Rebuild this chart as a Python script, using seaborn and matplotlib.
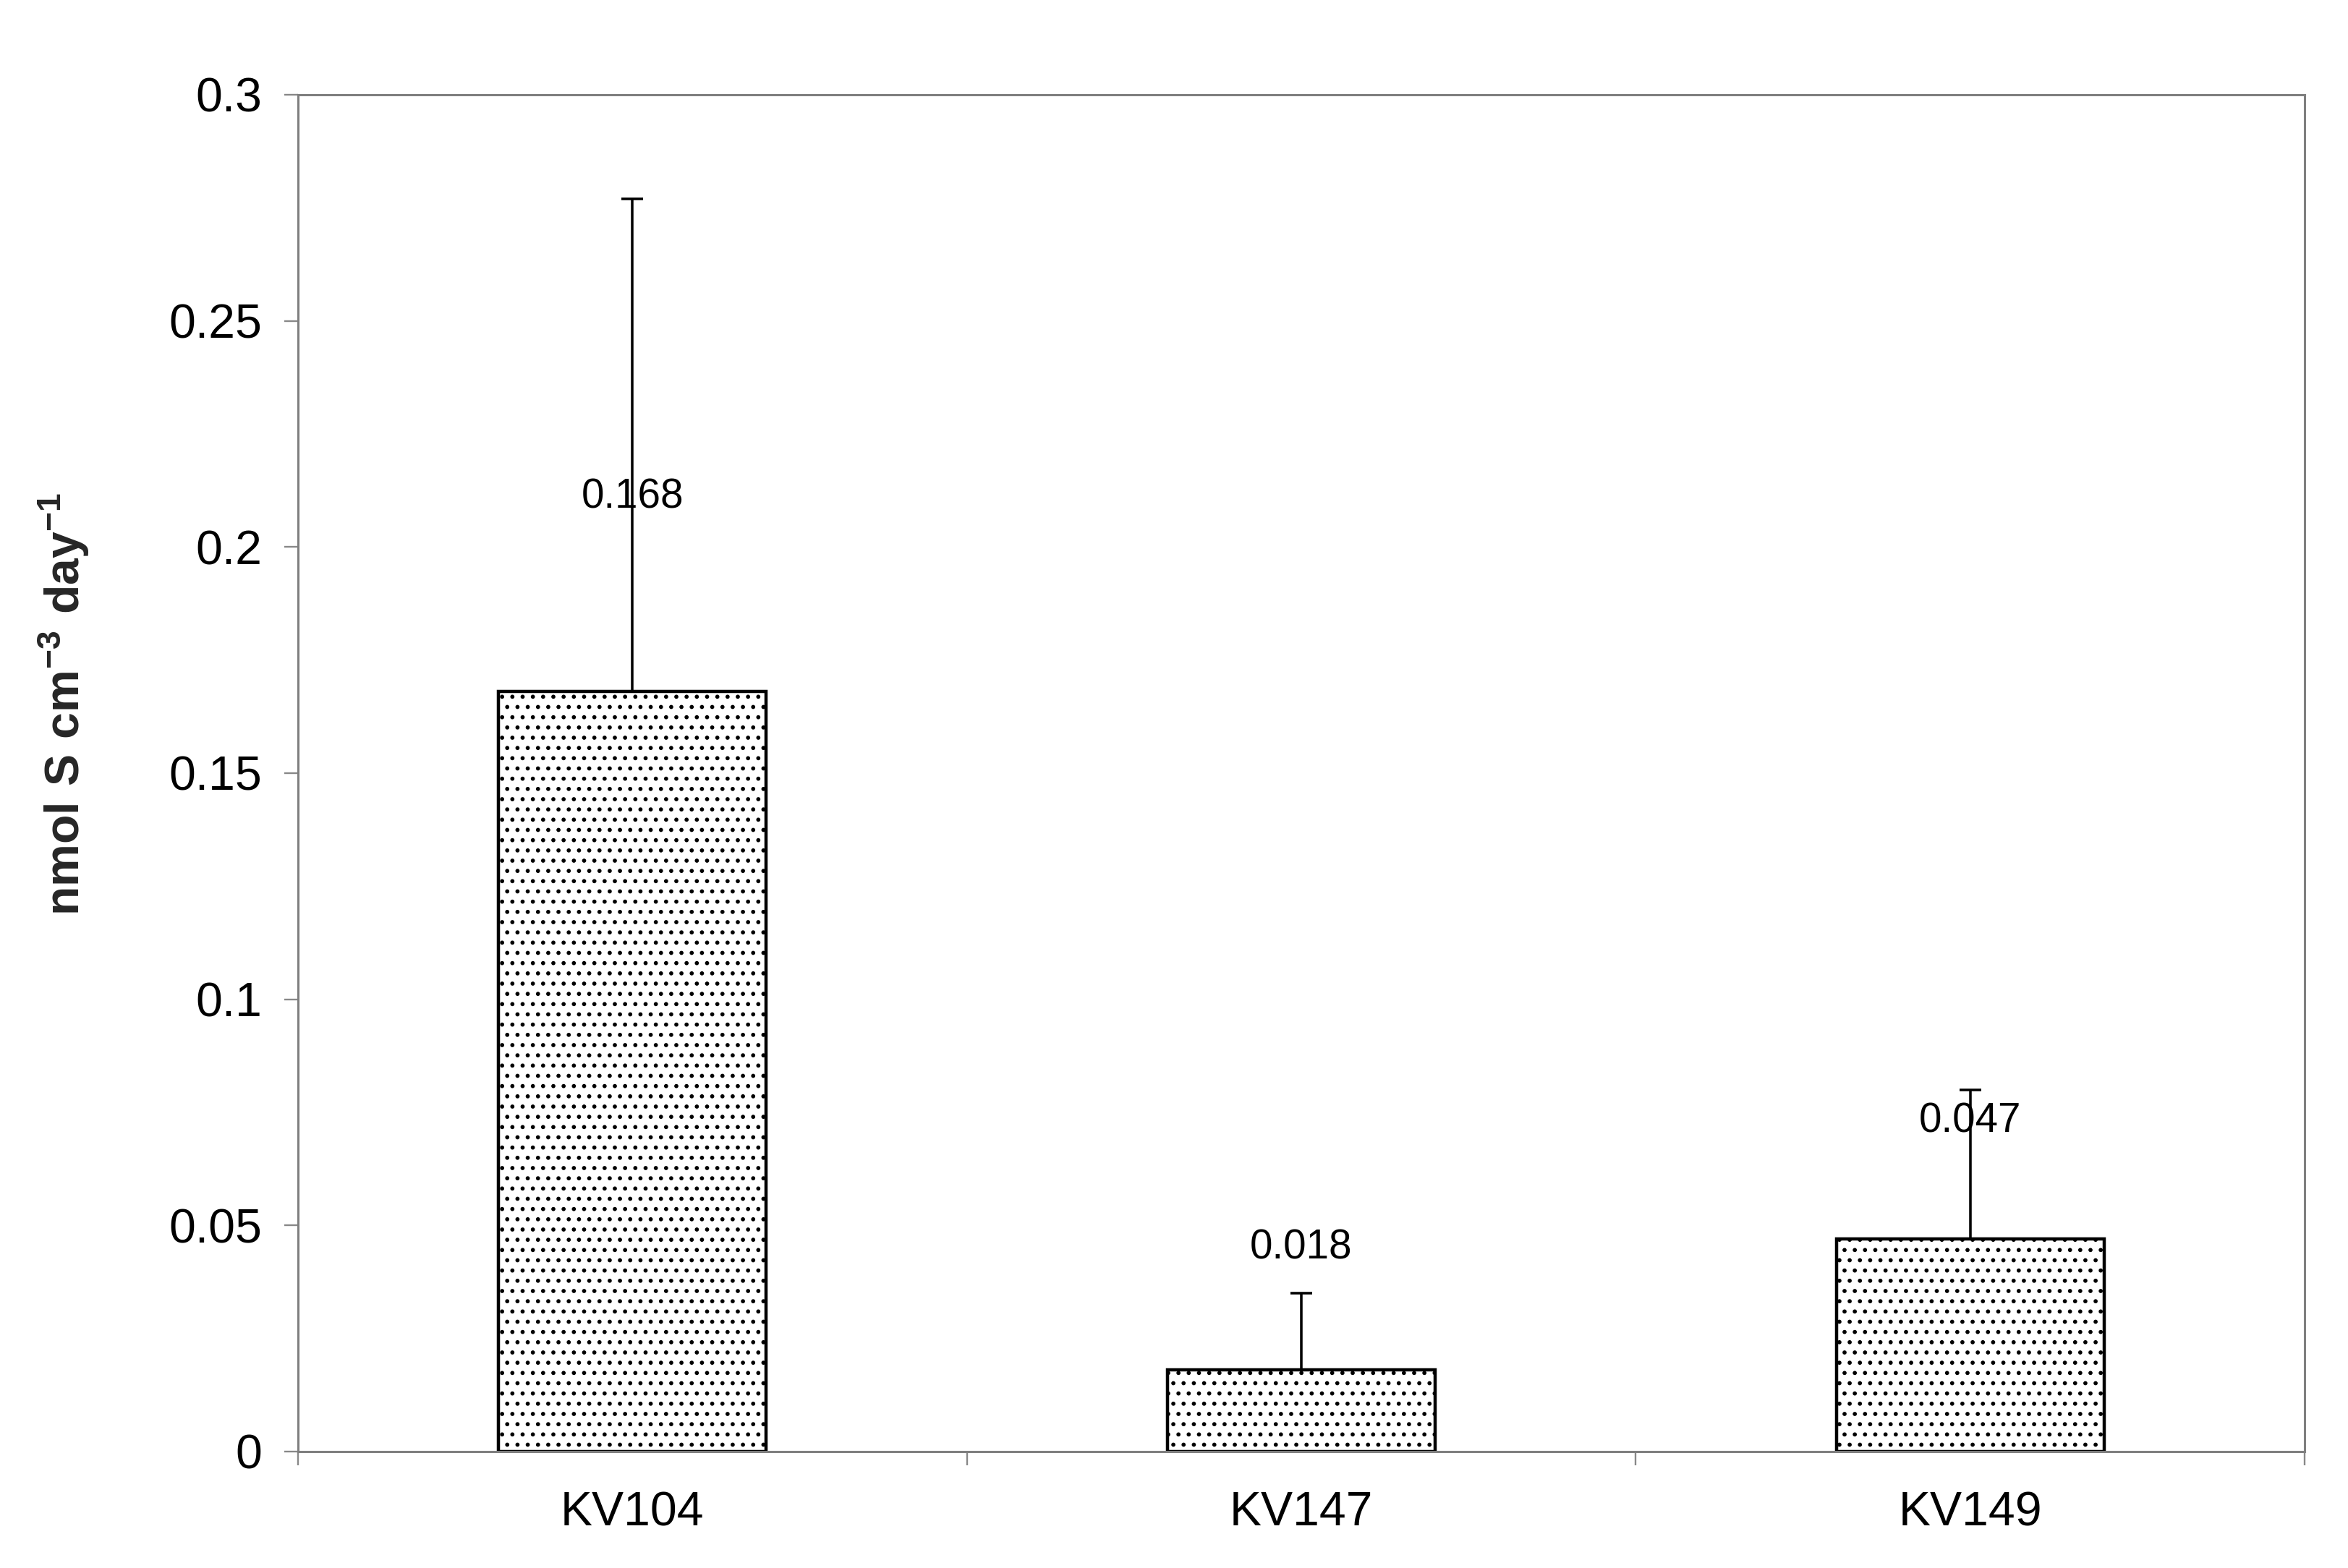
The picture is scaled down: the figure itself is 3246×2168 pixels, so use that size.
import matplotlib
matplotlib.use("Agg")
import matplotlib.pyplot as plt
import seaborn as sns
import pandas as pd
import numpy as np

# ---- data ----
sites = ["KV104", "KV147", "KV149"]
rates = [0.168, 0.018, 0.047]
err_upper = [0.109, 0.017, 0.033]
value_labels = ["0.168", "0.018", "0.047"]
label_y = [0.211, 0.045, 0.073]
yticks = [0, 0.05, 0.1, 0.15, 0.2, 0.25, 0.3]
ytick_labels = ["0", "0.05", "0.1", "0.15", "0.2", "0.25", "0.3"]

sns.set_theme(style="white")
plt.rcParams['font.family'] = ['Liberation Sans', 'DejaVu Sans']
plt.rcParams['mathtext.fontset'] = 'custom'
plt.rcParams['mathtext.rm'] = 'Liberation Sans'
plt.rcParams['mathtext.bf'] = 'Liberation Sans:bold'
plt.rcParams['hatch.linewidth'] = 1.2
plt.rcParams['hatch.color'] = 'black'

DPI = 170
fig = plt.figure(figsize=(3246 / DPI, 2168 / DPI), dpi=DPI)
ax = fig.add_axes([0.1269, 0.0743, 0.9815 - 0.1269, 0.9396 - 0.0743])

df = pd.DataFrame({"site": sites, "rate": rates})
sns.barplot(data=df, x="site", y="rate", ax=ax, width=0.4, color="white",
            edgecolor="black", linewidth=1.9, hatch="..", errorbar=None, saturation=1)
for p in ax.patches:
    p.set_facecolor("white")
    p.set_hatch("..")
    p.set_edgecolor("black")

xpos = np.arange(len(sites))
ax.errorbar(xpos, rates, yerr=[np.zeros(len(rates)), err_upper], fmt="none",
            ecolor="black", elinewidth=1.5, capsize=6.5, capthick=1.5, zorder=3)

for x, ly, txt in zip(xpos, label_y, value_labels):
    ax.text(x, ly, txt, ha="center", va="center", fontsize=24, color="black", zorder=4)

ax.set_ylim(0, 0.3)
ax.set_xlim(-0.5, len(sites) - 0.5)
ax.set_yticks(yticks)
ax.set_yticklabels(ytick_labels)
ax.set_xticks(xpos)
ax.set_xticklabels(sites)
ax.set_xticks(np.arange(len(sites) + 1) - 0.5, minor=True)
ax.tick_params(axis="x", which="major", length=0, labelsize=28, pad=23, colors="black")
ax.tick_params(axis="x", which="minor", length=8, width=1.0, color="#888888", direction="out")
ax.tick_params(axis="y", which="major", length=8, width=1.0, color="#888888", direction="out",
               labelsize=28, pad=13, labelcolor="black")
ax.tick_params(left=True, bottom=True)
ax.xaxis.set_tick_params(which="minor", bottom=True)

for s in ax.spines.values():
    s.set_visible(True)
    s.set_color("#7f7f7f")
    s.set_linewidth(1.3)

ax.set_xlabel("")
ax.set_ylabel(r"$\mathbf{nmol\ S\ cm^{-3}\ day^{-1}}$", fontsize=28)
ax.yaxis.set_label_coords(-0.103, 0.551)
ax.grid(False)

fig.savefig("out.png", dpi=DPI, facecolor="white")
